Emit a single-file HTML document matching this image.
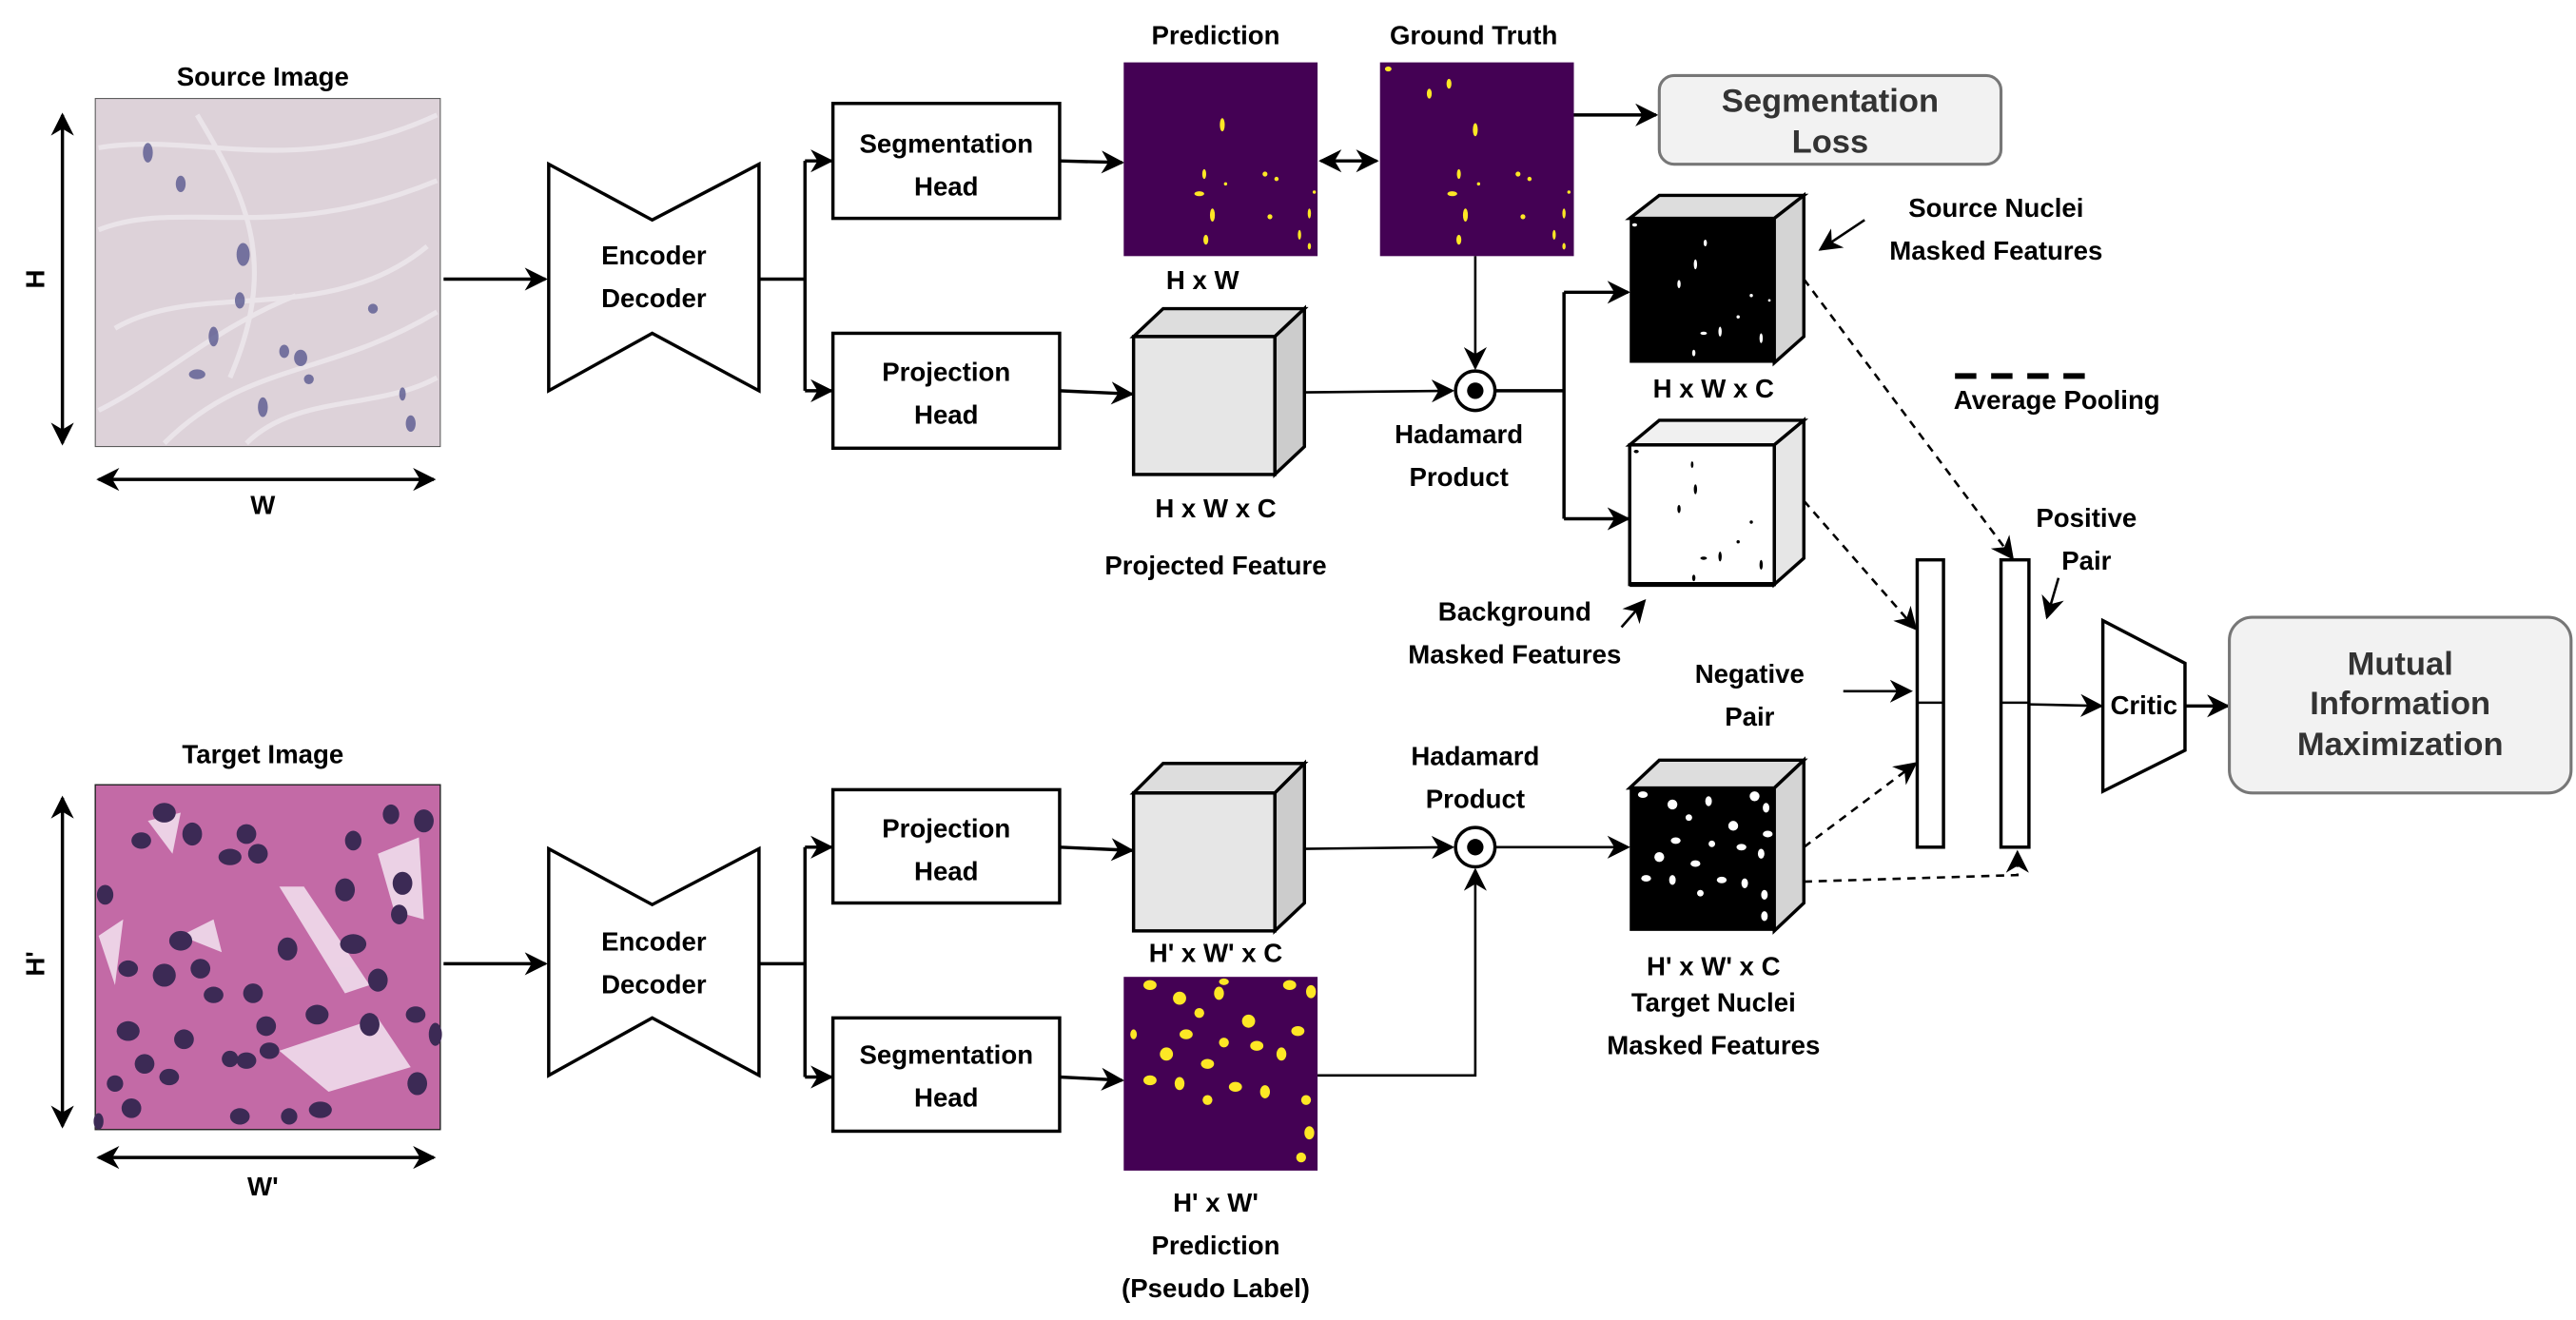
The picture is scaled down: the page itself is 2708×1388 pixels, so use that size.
<!DOCTYPE html>
<html><head><meta charset="utf-8"><style>
html,body{margin:0;padding:0;background:#fff;}
svg{display:block;}
text{font-family:"Liberation Sans",Arial,sans-serif;font-weight:bold;font-size:16px;fill:#000;text-anchor:middle;}
</style></head><body>
<svg width="2708" height="1388" viewBox="0 0 1568 804" preserveAspectRatio="none" xmlns="http://www.w3.org/2000/svg">
<defs>
<marker id="b" viewBox="0 0 10 10" refX="9" refY="5" markerWidth="14" markerHeight="14" orient="auto-start-reverse" markerUnits="userSpaceOnUse"><path d="M0,0 L10,5 L0,10 L3,5 z" fill="#000"/></marker>
</defs>

<!-- Source image -->
<text x="160" y="52">Source Image</text>
<rect x="58" y="60" width="210" height="212" fill="#ddd2d9" stroke="#555" stroke-width="0.6"/>
<g stroke="#eee9ee" stroke-width="3" fill="none" opacity="0.8">
<path d="M60,90 C120,80 180,110 266,70"/><path d="M60,140 C110,120 170,150 266,110"/><path d="M70,200 C120,170 200,200 260,150"/><path d="M100,270 C150,220 200,230 266,190"/><path d="M150,270 C180,240 230,250 266,230"/><path d="M60,250 C100,230 130,200 180,180"/><path d="M120,70 C150,120 170,160 140,230"/>
</g>
<g fill="#5a5a90" opacity="0.8">
<ellipse cx="90" cy="93" rx="3" ry="6"/><ellipse cx="148" cy="155" rx="4" ry="7"/><ellipse cx="146" cy="183" rx="3" ry="5"/><ellipse cx="130" cy="205" rx="3" ry="6"/><ellipse cx="173" cy="214" rx="3" ry="4"/><ellipse cx="183" cy="218" rx="4" ry="5"/><ellipse cx="120" cy="228" rx="5" ry="3"/><ellipse cx="160" cy="248" rx="3" ry="6"/><ellipse cx="188" cy="231" rx="3" ry="3"/><ellipse cx="250" cy="258" rx="3" ry="5"/><ellipse cx="245" cy="240" rx="2" ry="4"/><ellipse cx="110" cy="112" rx="3" ry="5"/><ellipse cx="227" cy="188" rx="3" ry="3"/></g>
<line x1="38" y1="70" x2="38" y2="270" stroke="#000" stroke-width="2" marker-start="url(#b)" marker-end="url(#b)"/>
<text x="27" y="170" transform="rotate(-90 27 170)">H</text>
<line x1="60" y1="292" x2="264" y2="292" stroke="#000" stroke-width="2" marker-start="url(#b)" marker-end="url(#b)"/>
<text x="160" y="313">W</text>

<!-- Encoder decoder 1 -->
<polygon points="334,100 397,134 462,100 462,238 397,203 334,238" fill="#fff" stroke="#000" stroke-width="2"/>
<text x="398" y="161">Encoder</text><text x="398" y="187">Decoder</text>
<line x1="270" y1="170" x2="332" y2="170" stroke="#000" stroke-width="2" marker-end="url(#b)"/>
<polyline points="462,170 490,170" stroke="#000" stroke-width="2" fill="none"/>
<line x1="490" y1="98" x2="490" y2="238" stroke="#000" stroke-width="2"/>
<line x1="490" y1="98" x2="506" y2="98" stroke="#000" stroke-width="2" marker-end="url(#b)"/>
<line x1="490" y1="238" x2="506" y2="238" stroke="#000" stroke-width="2" marker-end="url(#b)"/>
<rect x="507" y="63" width="138" height="70" fill="#fff" stroke="#000" stroke-width="2"/>
<text x="576" y="93">Segmentation</text><text x="576" y="119">Head</text>
<rect x="507" y="203" width="138" height="70" fill="#fff" stroke="#000" stroke-width="2"/>
<text x="576" y="232">Projection</text><text x="576" y="258">Head</text>

<!-- Prediction -->
<text x="740" y="27">Prediction</text>
<rect x="684" y="38" width="118" height="118" fill="#440154"/>
<g fill="#fde725"><ellipse cx="744" cy="76" rx="1.5" ry="4"/><ellipse cx="733" cy="106" rx="1.2" ry="3"/><ellipse cx="730" cy="118" rx="3" ry="1.5"/><ellipse cx="738" cy="131" rx="1.5" ry="4"/><ellipse cx="734" cy="146" rx="1.5" ry="3"/><circle cx="746" cy="112" r="1"/><circle cx="770" cy="106" r="1.5"/><circle cx="777" cy="109" r="1.3"/><circle cx="773" cy="132" r="1.5"/><ellipse cx="797" cy="130" rx="1" ry="3"/><ellipse cx="791" cy="143" rx="1" ry="3"/><ellipse cx="797" cy="150" rx="1" ry="2"/><circle cx="800" cy="117" r="1"/></g>
<text x="732" y="176">H x W</text>
<line x1="645" y1="98" x2="683" y2="99" stroke="#000" stroke-width="2" marker-end="url(#b)"/>
<line x1="804" y1="98" x2="838" y2="98" stroke="#000" stroke-width="2" marker-start="url(#b)" marker-end="url(#b)"/>

<!-- Ground truth -->
<text x="897" y="27">Ground Truth</text>
<rect x="840" y="38" width="118" height="118" fill="#440154"/>
<g fill="#fde725"><ellipse cx="898" cy="79" rx="1.5" ry="4"/><ellipse cx="882" cy="51" rx="1.5" ry="3"/><ellipse cx="870" cy="57" rx="1.5" ry="3"/><ellipse cx="845" cy="42" rx="2" ry="1.5"/><ellipse cx="888" cy="106" rx="1.2" ry="3"/><ellipse cx="884" cy="118" rx="3" ry="1.5"/><ellipse cx="892" cy="131" rx="1.5" ry="4"/><ellipse cx="888" cy="146" rx="1.5" ry="3"/><circle cx="900" cy="112" r="1"/><circle cx="924" cy="106" r="1.5"/><circle cx="931" cy="109" r="1.3"/><circle cx="927" cy="132" r="1.5"/><ellipse cx="952" cy="130" rx="1" ry="3"/><ellipse cx="946" cy="143" rx="1" ry="3"/><ellipse cx="952" cy="150" rx="1" ry="2"/><circle cx="955" cy="117" r="1"/></g>
<line x1="958" y1="70" x2="1008" y2="70" stroke="#000" stroke-width="2" marker-end="url(#b)"/>
<rect x="1010" y="46" width="208" height="54" rx="9" fill="#f2f2f2" stroke="#777" stroke-width="1.8"/>
<text x="1114" y="68" style="font-size:20px;fill:#333">Segmentation</text><text x="1114" y="93" style="font-size:20px;fill:#333">Loss</text>
<line x1="898" y1="156" x2="898" y2="224" stroke="#000" stroke-width="1.5" marker-end="url(#b)"/>

<!-- Cube 1 -->
<polygon points="690,205 708,188 794,188 776,205" fill="#ddd" stroke="#000" stroke-width="2"/>
<polygon points="776,205 794,188 794,272 776,289" fill="#ccc" stroke="#000" stroke-width="2"/>
<rect x="690" y="205" width="86" height="84" fill="#e6e6e6" stroke="#000" stroke-width="2"/>
<text x="740" y="315">H x W x C</text>
<text x="740" y="350">Projected Feature</text>
<line x1="645" y1="238" x2="689" y2="240" stroke="#000" stroke-width="2" marker-end="url(#b)"/>
<line x1="794" y1="239" x2="884" y2="238" stroke="#000" stroke-width="1.5" marker-end="url(#b)"/>
<circle cx="898" cy="238" r="12" fill="#fff" stroke="#000" stroke-width="2"/><circle cx="898" cy="238" r="5" fill="#000"/>
<text x="888" y="270">Hadamard</text><text x="888" y="296">Product</text>
<polyline points="910,238 952,238" stroke="#000" stroke-width="2" fill="none"/>
<line x1="952" y1="178" x2="952" y2="316" stroke="#000" stroke-width="2"/>
<line x1="952" y1="178" x2="991" y2="178" stroke="#000" stroke-width="2" marker-end="url(#b)"/>
<line x1="952" y1="316" x2="991" y2="316" stroke="#000" stroke-width="2" marker-end="url(#b)"/>

<!-- Source nuclei cube -->
<polygon points="992,133 1010,119 1098,119 1080,133" fill="#ddd" stroke="#000" stroke-width="2"/>
<polygon points="1080,133 1098,119 1098,205 1080,221" fill="#d4d4d4" stroke="#000" stroke-width="2"/>
<rect x="992" y="133" width="88" height="88" fill="#000"/>
<g fill="#fff"><ellipse cx="1032" cy="161" rx="1" ry="3"/><ellipse cx="1022" cy="173" rx="1" ry="2.5"/><ellipse cx="1038" cy="148" rx="1" ry="2"/><ellipse cx="1037" cy="203" rx="2" ry="1"/><ellipse cx="1031" cy="215" rx="1" ry="2"/><circle cx="1066" cy="180" r="1"/><circle cx="1058" cy="193" r="1"/><ellipse cx="1047" cy="202" rx="1" ry="3"/><ellipse cx="1072" cy="206" rx="1" ry="3"/><circle cx="1077" cy="183" r="0.8"/><ellipse cx="995" cy="137" rx="1.5" ry="1"/></g>
<text x="1043" y="242">H x W x C</text>
<text x="1215" y="132">Source Nuclei</text><text x="1215" y="158">Masked Features</text>
<line x1="1135" y1="134" x2="1108" y2="152" stroke="#000" stroke-width="1.5" marker-end="url(#b)"/>

<!-- Background cube -->
<polygon points="992,271 1010,256 1098,256 1080,271" fill="#f0f0f0" stroke="#000" stroke-width="2"/>
<polygon points="1080,271 1098,256 1098,340 1080,356" fill="#e6e6e6" stroke="#000" stroke-width="2"/>
<rect x="992" y="271" width="88" height="85" fill="#fff" stroke="#000" stroke-width="2"/>
<line x1="992" y1="356" x2="1080" y2="356" stroke="#000" stroke-width="3"/>
<g fill="#000"><ellipse cx="1032" cy="298" rx="1" ry="3"/><ellipse cx="1022" cy="310" rx="1" ry="2.5"/><ellipse cx="1037" cy="340" rx="2" ry="1"/><ellipse cx="1031" cy="352" rx="1" ry="2"/><circle cx="1066" cy="318" r="1"/><circle cx="1058" cy="330" r="1"/><ellipse cx="1047" cy="339" rx="1" ry="3"/><ellipse cx="1072" cy="344" rx="1" ry="3"/><ellipse cx="996" cy="275" rx="1.5" ry="1"/><ellipse cx="1030" cy="283" rx="0.8" ry="2"/></g>
<text x="922" y="378">Background</text><text x="922" y="404">Masked Features</text>
<line x1="987" y1="382" x2="1001" y2="366" stroke="#000" stroke-width="1.5" marker-end="url(#b)"/>

<!-- Average pooling legend -->
<line x1="1190" y1="229" x2="1272" y2="229" stroke="#000" stroke-width="3.5" stroke-dasharray="13,9"/>
<text x="1252" y="249">Average Pooling</text>

<!-- dashed arrows -->
<line x1="1098" y1="170" x2="1225" y2="340" stroke="#000" stroke-width="1.5" stroke-dasharray="5,4" marker-end="url(#b)"/>
<line x1="1098" y1="305" x2="1166" y2="383" stroke="#000" stroke-width="1.5" stroke-dasharray="5,4" marker-end="url(#b)"/>
<line x1="1098" y1="516" x2="1166" y2="465" stroke="#000" stroke-width="1.5" stroke-dasharray="5,4" marker-end="url(#b)"/>
<polyline points="1098,537 1228,533 1228,519" stroke="#000" stroke-width="1.5" stroke-dasharray="5,4" fill="none" marker-end="url(#b)"/>

<!-- Bars -->
<rect x="1167" y="341" width="16" height="175" fill="#fff" stroke="#000" stroke-width="2"/>
<line x1="1167" y1="428" x2="1183" y2="428" stroke="#000" stroke-width="1.5"/>
<rect x="1218" y="341" width="17" height="175" fill="#fff" stroke="#000" stroke-width="2"/>
<line x1="1218" y1="428" x2="1235" y2="428" stroke="#000" stroke-width="1.5"/>
<text x="1270" y="321">Positive</text><text x="1270" y="347">Pair</text>
<line x1="1253" y1="352" x2="1246" y2="376" stroke="#000" stroke-width="1.5" marker-end="url(#b)"/>
<text x="1065" y="416">Negative</text><text x="1065" y="442">Pair</text>
<line x1="1122" y1="421" x2="1163" y2="421" stroke="#000" stroke-width="1.5" marker-end="url(#b)"/>

<!-- Critic -->
<polygon points="1280,378 1330,404 1330,457 1280,482" fill="#fff" stroke="#000" stroke-width="2"/>
<text x="1305" y="435">Critic</text>
<line x1="1235" y1="429" x2="1279" y2="430" stroke="#000" stroke-width="1.5" marker-end="url(#b)"/>
<line x1="1330" y1="430" x2="1356" y2="430" stroke="#000" stroke-width="2" marker-end="url(#b)"/>
<rect x="1357" y="376" width="208" height="107" rx="14" fill="#f2f2f2" stroke="#777" stroke-width="1.8"/>
<text x="1461" y="411" style="font-size:20px;fill:#333">Mutual</text><text x="1461" y="435" style="font-size:20px;fill:#333">Information</text><text x="1461" y="460" style="font-size:20px;fill:#333">Maximization</text>

<!-- Target image -->
<text x="160" y="465">Target Image</text>
<rect x="58" y="478" width="210" height="210" fill="#c36aa6" stroke="#222" stroke-width="0.8"/>
<g fill="#f3e3f0" opacity="0.85">
<path d="M170,540 L185,540 L225,600 L210,605 z"/><path d="M230,520 L255,510 L258,560 L240,555 z"/><path d="M170,640 L230,620 L250,650 L200,665 z"/><path d="M110,570 L130,560 L135,580 z"/><path d="M90,500 L110,495 L105,520 z"/><path d="M60,570 L75,560 L70,600 z"/>
</g>
<g fill="#3c2a55">
<ellipse cx="100" cy="495" rx="7" ry="6"/><ellipse cx="86" cy="512" rx="6" ry="5"/><ellipse cx="117" cy="508" rx="6" ry="7"/><ellipse cx="150" cy="508" rx="6" ry="6"/><ellipse cx="140" cy="522" rx="7" ry="5"/><ellipse cx="157" cy="520" rx="6" ry="6"/><ellipse cx="215" cy="512" rx="5" ry="6"/><ellipse cx="238" cy="496" rx="5" ry="6"/><ellipse cx="258" cy="500" rx="6" ry="7"/><ellipse cx="210" cy="542" rx="6" ry="7"/><ellipse cx="245" cy="538" rx="6" ry="7"/><ellipse cx="243" cy="557" rx="5" ry="6"/><ellipse cx="215" cy="575" rx="8" ry="6"/><ellipse cx="230" cy="597" rx="6" ry="7"/><ellipse cx="175" cy="578" rx="6" ry="7"/><ellipse cx="110" cy="573" rx="7" ry="6"/><ellipse cx="100" cy="594" rx="7" ry="7"/><ellipse cx="122" cy="590" rx="6" ry="6"/><ellipse cx="130" cy="606" rx="6" ry="5"/><ellipse cx="154" cy="605" rx="6" ry="6"/><ellipse cx="162" cy="625" rx="6" ry="6"/><ellipse cx="193" cy="618" rx="7" ry="6"/><ellipse cx="225" cy="624" rx="6" ry="7"/><ellipse cx="253" cy="618" rx="6" ry="5"/><ellipse cx="265" cy="630" rx="4" ry="7"/><ellipse cx="78" cy="628" rx="7" ry="6"/><ellipse cx="88" cy="648" rx="6" ry="6"/><ellipse cx="112" cy="633" rx="6" ry="6"/><ellipse cx="78" cy="590" rx="6" ry="5"/><ellipse cx="70" cy="660" rx="5" ry="5"/><ellipse cx="103" cy="656" rx="6" ry="5"/><ellipse cx="150" cy="646" rx="6" ry="5"/><ellipse cx="164" cy="640" rx="6" ry="5"/><ellipse cx="80" cy="675" rx="6" ry="6"/><ellipse cx="146" cy="680" rx="6" ry="5"/><ellipse cx="176" cy="680" rx="5" ry="5"/><ellipse cx="195" cy="676" rx="7" ry="5"/><ellipse cx="254" cy="660" rx="6" ry="7"/><ellipse cx="60" cy="683" rx="3" ry="5"/><ellipse cx="64" cy="545" rx="5" ry="6"/><ellipse cx="140" cy="645" rx="5" ry="5"/></g>
<line x1="38" y1="486" x2="38" y2="686" stroke="#000" stroke-width="2" marker-start="url(#b)" marker-end="url(#b)"/>
<text x="27" y="587" transform="rotate(-90 27 587)">H'</text>
<line x1="60" y1="705" x2="264" y2="705" stroke="#000" stroke-width="2" marker-start="url(#b)" marker-end="url(#b)"/>
<text x="160" y="728">W'</text>

<!-- Encoder decoder 2 -->
<polygon points="334,517 397,551 462,517 462,655 397,620 334,655" fill="#fff" stroke="#000" stroke-width="2"/>
<text x="398" y="579">Encoder</text><text x="398" y="605">Decoder</text>
<line x1="270" y1="587" x2="332" y2="587" stroke="#000" stroke-width="2" marker-end="url(#b)"/>
<polyline points="462,587 490,587" stroke="#000" stroke-width="2" fill="none"/>
<line x1="490" y1="516" x2="490" y2="656" stroke="#000" stroke-width="2"/>
<line x1="490" y1="516" x2="506" y2="516" stroke="#000" stroke-width="2" marker-end="url(#b)"/>
<line x1="490" y1="656" x2="506" y2="656" stroke="#000" stroke-width="2" marker-end="url(#b)"/>
<rect x="507" y="481" width="138" height="69" fill="#fff" stroke="#000" stroke-width="2"/>
<text x="576" y="510">Projection</text><text x="576" y="536">Head</text>
<rect x="507" y="620" width="138" height="69" fill="#fff" stroke="#000" stroke-width="2"/>
<text x="576" y="648">Segmentation</text><text x="576" y="674">Head</text>

<!-- Cube 2 -->
<polygon points="690,483 708,465 794,465 776,483" fill="#ddd" stroke="#000" stroke-width="2"/>
<polygon points="776,483 794,465 794,550 776,567" fill="#ccc" stroke="#000" stroke-width="2"/>
<rect x="690" y="483" width="86" height="84" fill="#e6e6e6" stroke="#000" stroke-width="2"/>
<text x="740" y="586">H' x W' x C</text>
<line x1="645" y1="516" x2="689" y2="518" stroke="#000" stroke-width="2" marker-end="url(#b)"/>
<line x1="794" y1="517" x2="884" y2="516" stroke="#000" stroke-width="1.5" marker-end="url(#b)"/>

<!-- Pseudo label -->
<rect x="684" y="595" width="118" height="118" fill="#440154"/>
<g fill="#fde725">
<ellipse cx="700" cy="600" rx="4" ry="3"/><ellipse cx="718" cy="608" rx="4" ry="4"/><ellipse cx="742" cy="605" rx="3" ry="4"/><ellipse cx="785" cy="600" rx="4" ry="3"/><ellipse cx="798" cy="604" rx="3" ry="4"/><ellipse cx="722" cy="630" rx="4" ry="3"/><ellipse cx="710" cy="642" rx="4" ry="4"/><ellipse cx="700" cy="658" rx="4" ry="3"/><ellipse cx="718" cy="660" rx="3" ry="4"/><ellipse cx="735" cy="648" rx="4" ry="3"/><ellipse cx="745" cy="635" rx="3" ry="3"/><ellipse cx="760" cy="622" rx="4" ry="4"/><ellipse cx="765" cy="637" rx="4" ry="3"/><ellipse cx="780" cy="642" rx="3" ry="4"/><ellipse cx="790" cy="628" rx="4" ry="3"/><ellipse cx="752" cy="662" rx="4" ry="3"/><ellipse cx="770" cy="665" rx="3" ry="4"/><ellipse cx="795" cy="670" rx="3" ry="3"/><ellipse cx="735" cy="670" rx="3" ry="3"/><ellipse cx="745" cy="598" rx="3" ry="2"/><ellipse cx="797" cy="690" rx="3" ry="4"/><ellipse cx="792" cy="705" rx="3" ry="3"/><ellipse cx="730" cy="617" rx="3" ry="3"/><ellipse cx="690" cy="630" rx="2" ry="3"/></g>
<text x="740" y="738">H' x W'</text><text x="740" y="764">Prediction</text><text x="740" y="790">(Pseudo Label)</text>
<line x1="645" y1="656" x2="683" y2="658" stroke="#000" stroke-width="2" marker-end="url(#b)"/>
<polyline points="802,655 898,655 898,530" stroke="#000" stroke-width="1.5" fill="none" marker-end="url(#b)"/>
<circle cx="898" cy="516" r="12" fill="#fff" stroke="#000" stroke-width="2"/><circle cx="898" cy="516" r="5" fill="#000"/>
<text x="898" y="466">Hadamard</text><text x="898" y="492">Product</text>
<line x1="910" y1="516" x2="991" y2="516" stroke="#000" stroke-width="1.5" marker-end="url(#b)"/>

<!-- Target cube -->
<polygon points="992,480 1010,463 1098,463 1080,480" fill="#ddd" stroke="#000" stroke-width="2"/>
<polygon points="1080,480 1098,463 1098,550 1080,567" fill="#d4d4d4" stroke="#000" stroke-width="2"/>
<rect x="992" y="480" width="88" height="87" fill="#000"/>
<g fill="#fff">
<ellipse cx="1000" cy="484" rx="3" ry="2"/><ellipse cx="1018" cy="490" rx="3" ry="3"/><ellipse cx="1040" cy="488" rx="2" ry="3"/><ellipse cx="1068" cy="485" rx="3" ry="3"/><ellipse cx="1075" cy="492" rx="2" ry="3"/><ellipse cx="1020" cy="512" rx="3" ry="2"/><ellipse cx="1010" cy="522" rx="3" ry="3"/><ellipse cx="1002" cy="535" rx="3" ry="2"/><ellipse cx="1018" cy="536" rx="2" ry="3"/><ellipse cx="1032" cy="526" rx="3" ry="2"/><ellipse cx="1042" cy="514" rx="2" ry="2"/><ellipse cx="1055" cy="503" rx="3" ry="3"/><ellipse cx="1060" cy="516" rx="3" ry="2"/><ellipse cx="1072" cy="520" rx="2" ry="3"/><ellipse cx="1076" cy="508" rx="3" ry="2"/><ellipse cx="1048" cy="536" rx="3" ry="2"/><ellipse cx="1062" cy="538" rx="2" ry="3"/><ellipse cx="1074" cy="545" rx="2" ry="3"/><ellipse cx="1035" cy="544" rx="2" ry="2"/><ellipse cx="1074" cy="558" rx="2" ry="3"/><ellipse cx="1028" cy="498" rx="2" ry="2"/></g>
<text x="1043" y="594">H' x W' x C</text><text x="1043" y="616">Target Nuclei</text><text x="1043" y="642">Masked Features</text>
</svg>
</body></html>
